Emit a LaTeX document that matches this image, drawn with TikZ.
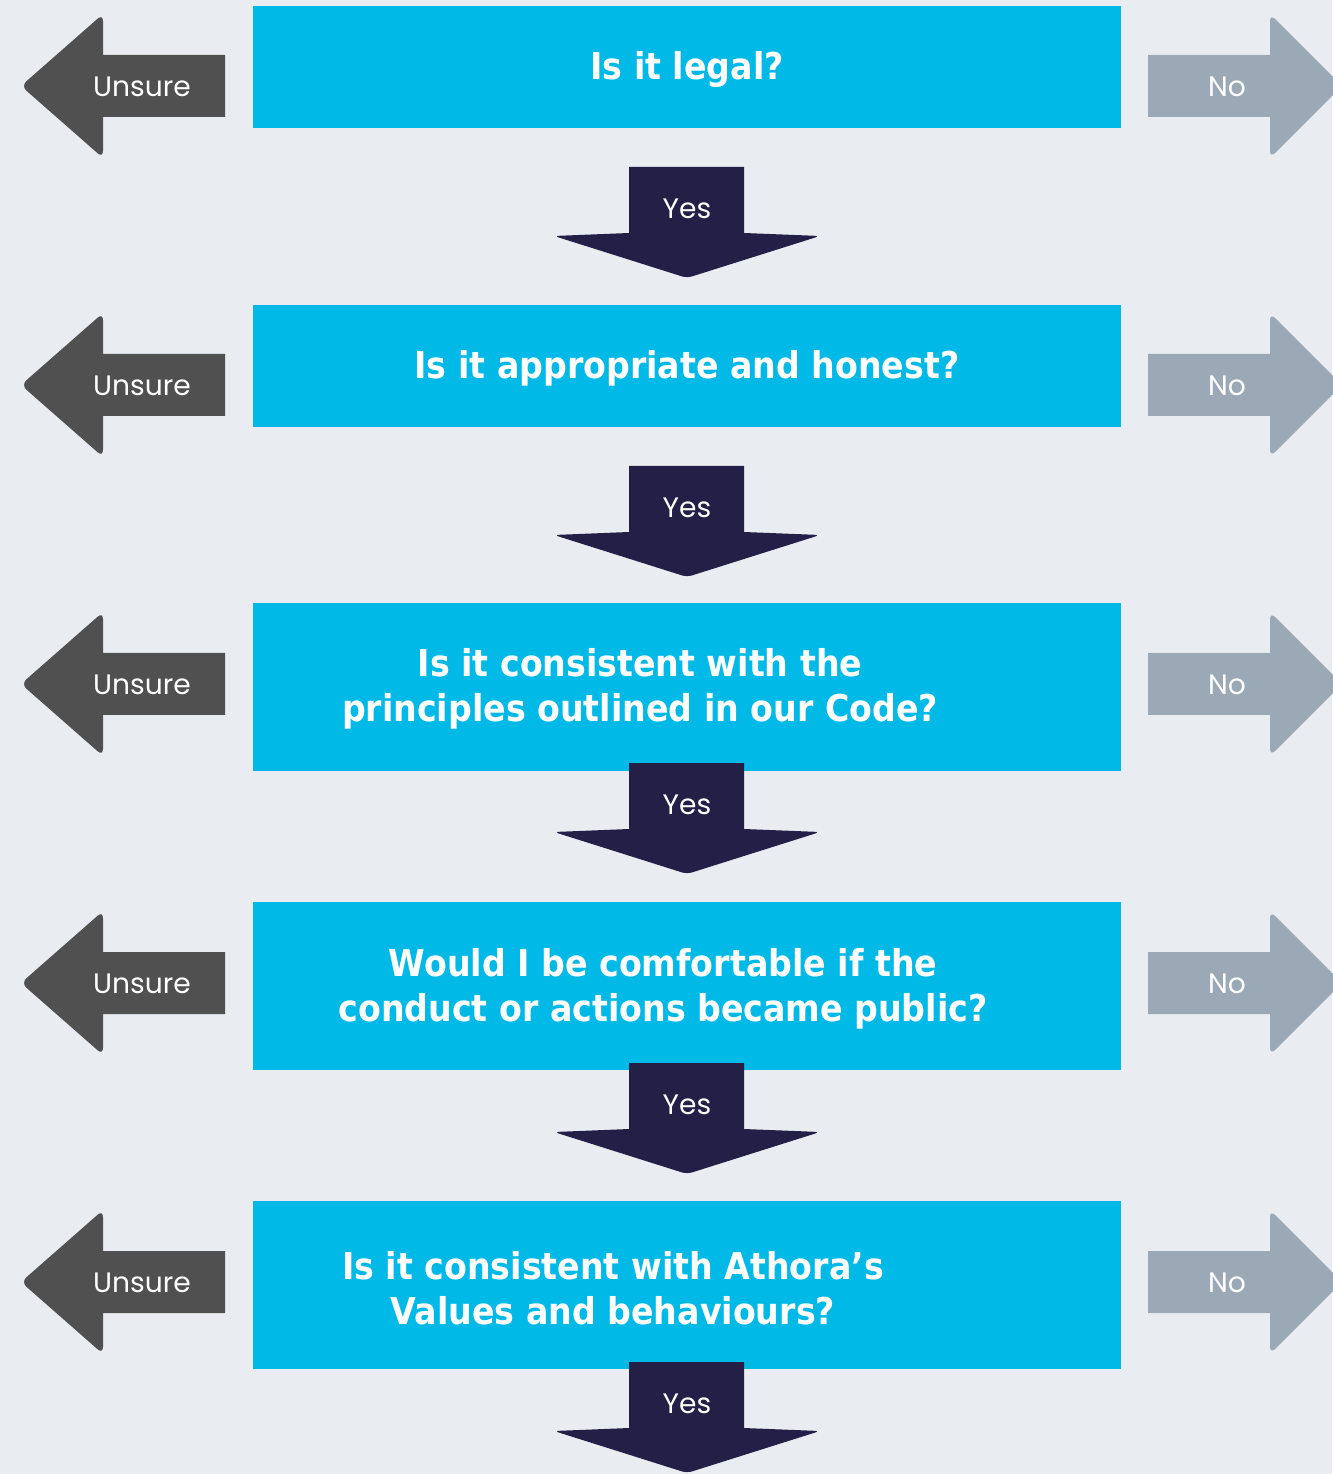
\documentclass[tikz,border=0pt]{standalone}
\usepackage{fontspec}
\newfontfamily\qfont[FakeStretch=0.9]{DejaVu Sans}
\newfontfamily\lblfont{Poppins}

\definecolor{bgcol}{HTML}{E9EDF1}
\definecolor{boxcyan}{HTML}{00B9E6}
\definecolor{unsuregray}{HTML}{505050}
\definecolor{nogray}{HTML}{9BA8B5}
\definecolor{yesnavy}{HTML}{231F46}

\begin{document}
\begin{tikzpicture}[x=0.01cm,y=-0.01cm,
  qbox/.style={fill=boxcyan,minimum width=8.68cm,inner sep=0pt},
  qtext/.style={text=white,align=center,inner sep=0pt,
    font=\qfont\bfseries\fontsize{10.5}{12.8}\selectfont},
  lbl/.style={text=white,inner sep=0pt,font=\lblfont\fontsize{8}{10}\selectfont}]
  \fill[bgcol] (0,0) rectangle (1332,1474);
  \useasboundingbox (0,0) rectangle (1332,1474);

  % side arrows
  \foreach \i/\c in {1/86,2/385,3/684,4/983,5/1282} {
    \fill[unsuregray] (225,\c-31) -- (103,\c-31) [rounded corners=2pt] -- (103,\c-72)
      -- (21,\c) -- (103,\c+72) [sharp corners] -- (103,\c+31) -- (225,\c+31) -- cycle;
    \node[lbl] (unsure\i) at (142,\c+1) {Unsure};
    \fill[nogray] (1148,\c-31) -- (1270,\c-31) [rounded corners=2pt] -- (1270,\c-72)
      -- (1342,\c) -- (1270,\c+72) [sharp corners] -- (1270,\c+31) -- (1148,\c+31) -- cycle;
    \node[lbl] (no\i) at (1227,\c+1) {No};
  }

  % question boxes
  \node[qbox,minimum height=1.22cm] (qbox1) at (687,67) {};
  \node[qbox,minimum height=1.22cm] (qbox2) at (687,366) {};
  \node[qbox,minimum height=1.68cm] (qbox3) at (687,687) {};
  \node[qbox,minimum height=1.68cm] (qbox4) at (687,986) {};
  \node[qbox,minimum height=1.68cm] (qbox5) at (687,1285) {};

  \node[qtext] (q1) at (687,69) {Is it legal?};
  \node[qtext] (q2) at (687,368) {Is it appropriate and honest?};
  \node[qtext] (q3) at (640,689) {Is it consistent with the\\principles outlined in our Code?};
  \node[qtext] (q4) at (663,989) {Would I be comfortable if the\\conduct or actions became public?};
  \node[qtext] (q5) at (613,1288) {Is it consistent with Athora’s\\Values and behaviours?};

  % yes arrows
  \foreach \i/\t in {1/167,2/466,3/763,4/1063,5/1362} {
    \fill[yesnavy] (629,\t) -- (744,\t) -- (744,\t+66) [rounded corners=1.5pt] -- (820,\t+69)
      -- (687,\t+111) -- (554,\t+69) [sharp corners] -- (629,\t+66) -- cycle;
    \node[lbl] (yes\i) at (687,\t+42) {Yes};
  }
\end{tikzpicture}
\end{document}
